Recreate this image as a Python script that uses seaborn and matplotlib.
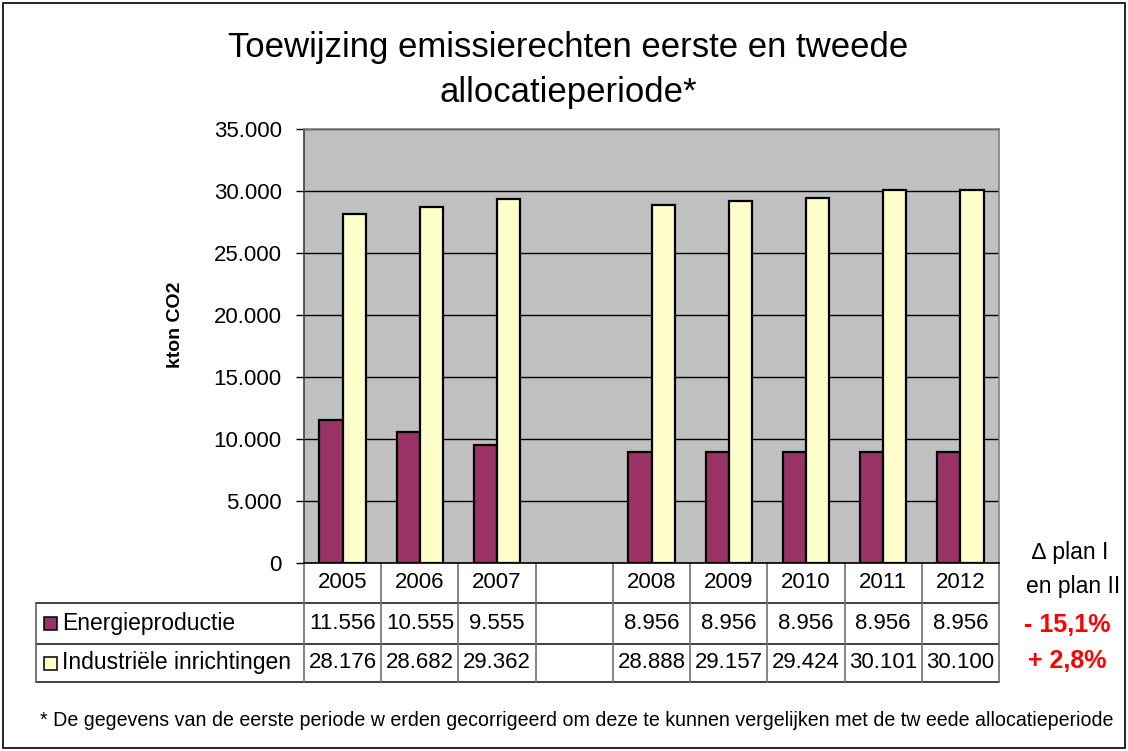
import matplotlib
matplotlib.use("Agg")
import matplotlib.pyplot as plt
from matplotlib.patches import Rectangle
from matplotlib.lines import Line2D
import matplotlib.transforms as mtransforms
import seaborn as sns
import pandas as pd
import numpy as np

# ---------------- data ----------------
categories = ["2005", "2006", "2007", " ", "2008", "2009", "2010", "2011", "2012"]
years = ["2005", "2006", "2007", "2008", "2009", "2010", "2011", "2012"]
series_names = ["Energieproductie", "Industriële inrichtingen"]
energie = [11556, 10555, 9555, 8956, 8956, 8956, 8956, 8956]
industrie = [28176, 28682, 29362, 28888, 29157, 29424, 30101, 30100]
yticks = [0, 5000, 10000, 15000, 20000, 25000, 30000, 35000]
delta_header = ["∆ plan I", "en plan II"]
delta_values = ["- 15,1%", "+ 2,8%"]
title = "Toewijzing emissierechten eerste en tweede\nallocatieperiode*"
ylabel = "kton CO2"
footnote = ("* De gegevens van de eerste periode w erden gecorrigeerd om deze te kunnen "
            "vergelijken met de tw eede allocatieperiode")

colors = ["#993366", "#FFFFCC"]

sns.set_theme(style="white")
plt.rcParams["font.family"] = ["Liberation Sans", "DejaVu Sans"]

def fmt(v):
    return f"{v:,}".replace(",", ".")

df = pd.DataFrame({
    "year": years * 2,
    "series": [series_names[0]] * len(years) + [series_names[1]] * len(years),
    "value": energie + industrie,
})

W, H = 1128, 751
fig = plt.figure(figsize=(W / 100, H / 100), dpi=100)
fig.patch.set_facecolor("white")

def fx(px):
    return px / W

def fy(py):
    return 1 - py / H

ax_left, ax_right, ax_top, ax_bottom = 304, 999, 129, 563
ax = fig.add_axes([fx(ax_left), fy(ax_bottom), fx(ax_right - ax_left), (ax_bottom - ax_top) / H])
ax.set_facecolor("#C0C0C0")

sns.barplot(data=df, x="year", y="value", hue="series", order=categories,
            hue_order=series_names, palette=colors, width=0.6, gap=0,
            edgecolor="black", linewidth=1.6, saturation=1, ax=ax, legend=False,
            errorbar=None)

ax.set_xlim(-0.5, len(categories) - 0.5)
ax.set_ylim(0, 35000)
ax.set_yticks(yticks)
ax.set_yticklabels([fmt(v) for v in yticks], fontsize=16, color="black")
ax.tick_params(axis="y", length=6, width=1, color="black", pad=10, left=True)
ax.set_xticks([])
ax.set_xlabel("")
ax.set_ylabel(ylabel, fontsize=14, fontweight="bold", color="black")
ax.yaxis.set_label_coords(-0.173, 0.548)
ax.grid(axis="y", color="black", linewidth=1)
ax.set_axisbelow(True)
for side in ["top", "right"]:
    ax.spines[side].set_color("#808080")
    ax.spines[side].set_linewidth(1.2)
ax.spines["left"].set_color("#404040")
ax.spines["bottom"].set_color("black")
ax.spines["left"].set_linewidth(1.2)
ax.spines["bottom"].set_linewidth(1.2)

# ---------------- data table ----------------
trans = mtransforms.blended_transform_factory(ax.transData, ax.transAxes)
axh = ax_bottom - ax_top

def ay(py):
    return (ax_bottom - py) / axh

row_top, row1, row2, row_bot = 563, 603, 644, 682
label_left = -0.5 - (ax_left - 36) / ((ax_right - ax_left) / len(categories))
right = len(categories) - 0.5

for py in [row1, row2, row_bot]:
    ax.add_line(Line2D([label_left, right], [ay(py), ay(py)], transform=trans,
                       color="#202020", linewidth=1.2, clip_on=False))
ax.add_line(Line2D([label_left, label_left], [ay(row1), ay(row_bot)], transform=trans,
                   color="#606060", linewidth=1.2, clip_on=False))
for i in range(len(categories) + 1):
    xb = i - 0.5
    ax.add_line(Line2D([xb, xb], [0, ay(row_bot)], transform=trans,
                       color="#707070", linewidth=1.2, clip_on=False))

hy = ay((row_top + row1) / 2)
r1y = ay((row1 + row2) / 2)
r2y = ay((row2 + row_bot) / 2)
vals = {series_names[0]: dict(zip(years, energie)),
        series_names[1]: dict(zip(years, industrie))}
for i, cat in enumerate(categories):
    ax.text(i, hy, cat, transform=trans, ha="center", va="center", fontsize=16, color="black")
    for name, yy in zip(series_names, [r1y, r2y]):
        if cat in vals[name]:
            ax.text(i, yy, fmt(vals[name][cat]), transform=trans, ha="center", va="center",
                    fontsize=16, color="black")

# legend keys in the table
for name, col, py in zip(series_names, colors, [(row1 + row2) / 2, (row2 + row_bot) / 2]):
    fig.patches.append(Rectangle((fx(44), fy(py + 6.5)), fx(13), 13 / H, transform=fig.transFigure,
                                 facecolor=col, edgecolor="black", linewidth=1.1))
    fig.text(fx(62), fy(py), name, ha="left", va="center", fontsize=16.5, color="black")

# delta annotations
fig.text(fx(1070), fy(552), delta_header[0], ha="center", va="center", fontsize=16.5, color="black")
fig.text(fx(1073), fy(586), delta_header[1], ha="center", va="center", fontsize=16.5, color="black")
fig.text(fx(1067), fy(625), delta_values[0], ha="center", va="center", fontsize=18,
         fontweight="bold", color="#FF0000")
fig.text(fx(1067), fy(661), delta_values[1], ha="center", va="center", fontsize=18,
         fontweight="bold", color="#FF0000")

# title and footnote
fig.text(fx(568), fy(70), title, ha="center", va="center", fontsize=25, color="black",
         linespacing=1.45)
fig.text(fx(40), fy(720), footnote, ha="left", va="center", fontsize=14.1, color="black")

# outer border
fig.patches.append(Rectangle((fx(3), fy(748)), fx(1122), 745 / H, transform=fig.transFigure,
                             facecolor="none", edgecolor="black", linewidth=1.2))

fig.savefig("out.png", dpi=100)
